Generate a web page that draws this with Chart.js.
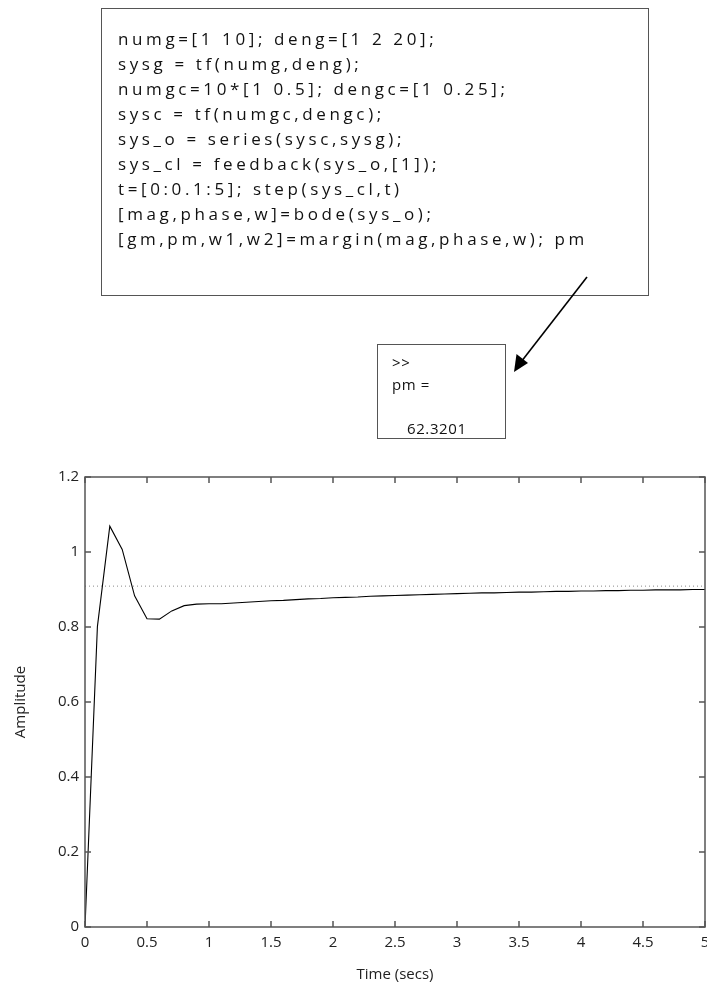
<!DOCTYPE html>
<html>
<head>
<meta charset="utf-8">
<script src="https://cdn.jsdelivr.net/npm/chart.js@4/dist/chart.umd.min.js"></script>
<style>
  html, body { margin: 0; padding: 0; background: #fff; }
  body { width: 707px; height: 990px; position: relative; overflow: hidden; font-family: 'Open Sans', sans-serif; color: #111; }
  #chartWrap { position: absolute; left: 0; top: 0; width: 707px; height: 990px; }
  .box { position: absolute; box-sizing: border-box; border: 1.5px solid #555; background: transparent; }
  #codeBox { left: 101px; top: 8px; width: 548px; height: 288px; }
  #codeText { position: absolute; left: 118px; top: 26px; font-size: 17px; line-height: 25px; white-space: pre; }
  #outBox { left: 377px; top: 344px; width: 129px; height: 95px; }
  #outText { position: absolute; left: 392px; top: 351px; font-size: 15px; line-height: 22px; white-space: pre; letter-spacing: 0.6px; }
  #arrow { position: absolute; left: 0; top: 0; width: 707px; height: 990px; pointer-events: none; }
</style>
</head>
<body>
<div id="chartWrap"><canvas id="c" width="707" height="990"></canvas></div>
<div class="box" id="codeBox"></div>
<div id="codeText"><div>numg=[1 10]; deng=[1 2 20];</div><div>sysg = tf(numg,deng);</div><div>numgc=10*[1 0.5]; dengc=[1 0.25];</div><div>sysc = tf(numgc,dengc);</div><div>sys_o = series(sysc,sysg);</div><div>sys_cl = feedback(sys_o,[1]);</div><div>t=[0:0.1:5]; step(sys_cl,t)</div><div>[mag,phase,w]=bode(sys_o);</div><div><span id="lastLine">[gm,pm,w1,w2]=margin(mag,phase,w); pm</span></div></div>
<div class="box" id="outBox"></div>
<div id="outText"><div>&gt;&gt;</div><div>pm =</div><div>&nbsp;</div><div style="padding-left:15px">62.3201</div></div>
<svg id="arrow" width="707" height="990">
  <line x1="587" y1="277" x2="521" y2="362" stroke="#000" stroke-width="1.6"/>
  <polygon points="514,372 516.5,354 528,363" fill="#000"/>
</svg>
<script>
// ---- data ----
const times = [0, 0.1, 0.2, 0.3, 0.4, 0.5, 0.6, 0.7, 0.8, 0.9, 1.0,
  1.1, 1.2, 1.3, 1.4, 1.5, 1.6, 1.7, 1.8, 1.9, 2.0,
  2.1, 2.2, 2.3, 2.4, 2.5, 2.6, 2.7, 2.8, 2.9, 3.0,
  3.1, 3.2, 3.3, 3.4, 3.5, 3.6, 3.7, 3.8, 3.9, 4.0,
  4.1, 4.2, 4.3, 4.4, 4.5, 4.6, 4.7, 4.8, 4.9, 5.0];
const amplitude = [0, 0.801, 1.069, 1.007, 0.883, 0.822, 0.821, 0.843, 0.857, 0.861, 0.862,
  0.862, 0.864, 0.866, 0.868, 0.870, 0.871, 0.873, 0.875, 0.876, 0.878,
  0.879, 0.880, 0.882, 0.883, 0.884, 0.885, 0.886, 0.887, 0.888, 0.889,
  0.890, 0.891, 0.891, 0.892, 0.893, 0.893, 0.894, 0.895, 0.895, 0.896,
  0.896, 0.897, 0.897, 0.898, 0.898, 0.899, 0.899, 0.899, 0.900, 0.900];
const steadyTimes = [0, 5];
const steadyValues = [0.909, 0.909];
const xTickLabels = ['0', '0.5', '1', '1.5', '2', '2.5', '3', '3.5', '4', '4.5', '5'];
const yTickLabels = ['0', '0.2', '0.4', '0.6', '0.8', '1', '1.2'];
const xTitle = 'Time (secs)';
const yTitle = 'Amplitude';

// fit code text letter spacing to reference width
(function () {
  const last = document.getElementById('lastLine');
  const w = last.getBoundingClientRect().width;
  const n = last.textContent.length;
  const ls = (470 - w) / n;
  document.getElementById('codeText').style.letterSpacing = ls.toFixed(2) + 'px';
})();

Chart.defaults.font.family = "'Open Sans', sans-serif";
Chart.defaults.color = '#222';

const boxPlugin = {
  id: 'matlabBox',
  afterDatasetsDraw(chart) {
    const { ctx, chartArea: a, scales: { x, y } } = chart;
    ctx.save();
    ctx.strokeStyle = '#555';
    ctx.lineWidth = 1.5;
    ctx.strokeRect(a.left, a.top, a.right - a.left, a.bottom - a.top);
    const tl = 6;
    ctx.beginPath();
    x.ticks.forEach(t => {
      const px = x.getPixelForValue(t.value);
      ctx.moveTo(px, a.bottom); ctx.lineTo(px, a.bottom - tl);
      ctx.moveTo(px, a.top); ctx.lineTo(px, a.top + tl);
    });
    y.ticks.forEach(t => {
      const py = y.getPixelForValue(t.value);
      ctx.moveTo(a.left, py); ctx.lineTo(a.left + tl, py);
      ctx.moveTo(a.right, py); ctx.lineTo(a.right - tl, py);
    });
    ctx.stroke();
    ctx.restore();
  }
};

new Chart(document.getElementById('c'), {
  type: 'line',
  data: {
    datasets: [
      {
        label: 'steady',
        data: steadyTimes.map((t, i) => ({ x: t, y: steadyValues[i] })),
        borderColor: '#8a8a8a',
        borderWidth: 1,
        borderDash: [1, 3],
        pointRadius: 0,
        tension: 0
      },
      {
        label: 'step',
        data: times.map((t, i) => ({ x: t, y: amplitude[i] })),
        borderColor: '#000',
        borderWidth: 1.1,
        pointRadius: 0,
        tension: 0
      }
    ]
  },
  options: {
    responsive: false,
    animation: false,
    devicePixelRatio: 1,
    layout: { padding: { top: 477, right: 2, left: 0, bottom: 0 } },
    plugins: { legend: { display: false }, tooltip: { enabled: false }, title: { display: false } },
    scales: {
      x: {
        type: 'linear', min: 0, max: 5,
        ticks: { stepSize: 0.5, font: { size: 15 }, padding: 7, maxRotation: 0, autoSkip: false,
          callback: (v, i) => xTickLabels[i] },
        grid: { display: false, drawTicks: false },
        border: { display: false },
        title: { display: true, text: xTitle, font: { size: 15 }, padding: { top: 0, bottom: 6 } },
        afterFit: s => { s.height = 63; s.paddingLeft = 0; s.paddingRight = 0; }
      },
      y: {
        type: 'linear', min: 0, max: 1.2,
        ticks: { stepSize: 0.2, font: { size: 15 }, padding: 6, autoSkip: false,
          callback: (v, i) => yTickLabels[i] },
        grid: { display: false, drawTicks: false },
        border: { display: false },
        title: { display: true, text: yTitle, font: { size: 15 }, padding: { top: 12, bottom: 0 } },
        afterFit: s => { s.width = 85; s.paddingTop = 0; s.paddingBottom = 0; }
      }
    }
  },
  plugins: [boxPlugin]
});
</script>
</body>
</html>
